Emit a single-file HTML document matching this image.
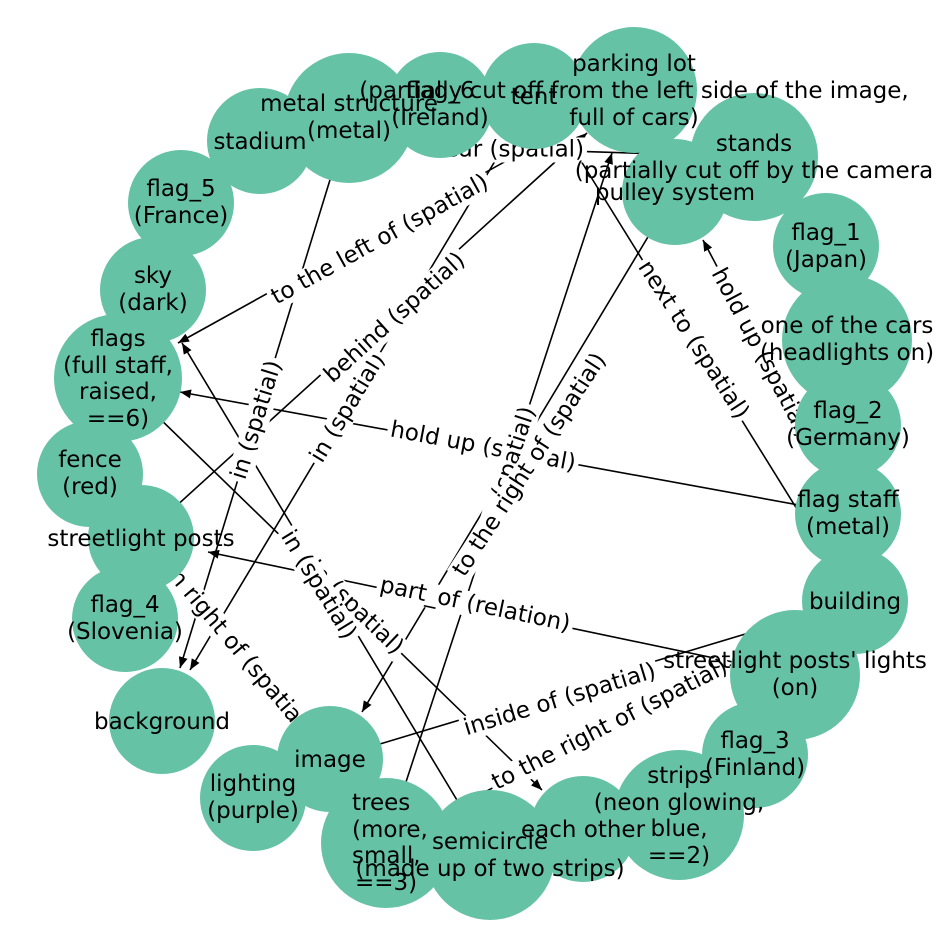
<!DOCTYPE html>
<html><head><meta charset="utf-8"><style>
html,body{margin:0;padding:0;background:#fff;}
#wrap{position:relative;width:948px;height:948px;overflow:hidden;font-family:"DejaVu Sans","Liberation Sans",sans-serif;}
svg{position:absolute;left:0;top:0;}
.el{position:absolute;white-space:nowrap;font-size:23px;line-height:25px;background:#fff;padding:0 3px;color:#000;}
</style></head><body><div id="wrap">
<svg width="948" height="948">
<defs><marker id="a" markerUnits="userSpaceOnUse" markerWidth="12" markerHeight="10" refX="11" refY="4.5" orient="auto"><path d="M0,0 L11,4.5 L0,9 z" fill="#000"/></marker></defs>
<g stroke="#000" stroke-width="1.6" fill="none">
<line x1="260" y1="141" x2="754" y2="157"/>
<line x1="349" y1="118" x2="180" y2="668" marker-end="url(#a)"/>
<line x1="534" y1="96" x2="190" y2="670" marker-end="url(#a)"/>
<line x1="141" y1="538" x2="587" y2="133" marker-end="url(#a)"/>
<line x1="634" y1="90" x2="178" y2="343" marker-end="url(#a)"/>
<line x1="800" y1="514" x2="568" y2="140" marker-end="url(#a)"/>
<line x1="848" y1="514" x2="703" y2="240" marker-end="url(#a)"/>
<line x1="848" y1="514" x2="180" y2="392" marker-end="url(#a)"/>
<line x1="675" y1="192" x2="362" y2="712" marker-end="url(#a)"/>
<line x1="386" y1="843" x2="612" y2="153" marker-end="url(#a)"/>
<line x1="795" y1="675" x2="208" y2="552" marker-end="url(#a)"/>
<line x1="330" y1="759" x2="855" y2="601"/>
<line x1="386" y1="843" x2="855" y2="601"/>
<line x1="490" y1="855" x2="182" y2="343" marker-end="url(#a)"/>
<line x1="118" y1="378" x2="542" y2="790" marker-end="url(#a)"/>
<line x1="90" y1="474" x2="330" y2="759"/>
</g></svg>

<div class="el" style="left:507px;top:150px;transform:translate(-50%,-50%) rotate(0deg)">near (spatial)</div>
<div class="el" style="left:483px;top:447px;transform:translate(-50%,-50%) rotate(10.5deg)">hold up (spatial)</div>
<div class="el" style="left:257px;top:420px;transform:translate(-50%,-50%) rotate(-72.8deg)">in (spatial)</div>
<div class="el" style="left:348px;top:408px;transform:translate(-50%,-50%) rotate(-59deg)">in (spatial)</div>
<div class="el" style="left:395px;top:318px;transform:translate(-50%,-50%) rotate(-42.3deg)">behind (spatial)</div>
<div class="el" style="left:380px;top:240px;transform:translate(-50%,-50%) rotate(-29deg)">to the left of (spatial)</div>
<div class="el" style="left:693px;top:340px;transform:translate(-50%,-50%) rotate(57deg)">next to (spatial)</div>
<div class="el" style="left:761px;top:353px;transform:translate(-50%,-50%) rotate(62deg)">hold up (spatial)</div>
<div class="el" style="left:510px;top:466px;transform:translate(-50%,-50%) rotate(-72deg)">in (spatial)</div>
<div class="el" style="left:530px;top:465px;transform:translate(-50%,-50%) rotate(-57deg)">to the right of (spatial)</div>
<div class="el" style="left:475px;top:605px;transform:translate(-50%,-50%) rotate(11.8deg)">part_of (relation)</div>
<div class="el" style="left:560px;top:700px;transform:translate(-50%,-50%) rotate(-17deg)">inside of (spatial)</div>
<div class="el" style="left:610px;top:725px;transform:translate(-50%,-50%) rotate(-27deg)">to the right of (spatial)</div>
<div class="el" style="left:355px;top:608px;transform:translate(-50%,-50%) rotate(44deg)">in (spatial)</div>
<div class="el" style="left:318px;top:585px;transform:translate(-50%,-50%) rotate(58.6deg)">in (spatial)</div>
<div class="el" style="left:218px;top:626px;transform:translate(-50%,-50%) rotate(50deg)">bottom right of (spatial)</div>

<svg width="948" height="948">
<g fill="#66c2a5">
<circle cx="260" cy="141" r="53"/>
<circle cx="349" cy="118" r="65"/>
<circle cx="440" cy="105" r="53"/>
<circle cx="534" cy="96" r="53"/>
<circle cx="634" cy="90" r="63"/>
<circle cx="754" cy="157" r="64"/>
<circle cx="675" cy="192" r="53"/>
<circle cx="826" cy="246" r="53"/>
<circle cx="847" cy="340" r="65"/>
<circle cx="848" cy="425" r="53"/>
<circle cx="848" cy="514" r="53"/>
<circle cx="855" cy="601" r="53"/>
<circle cx="795" cy="675" r="65"/>
<circle cx="755" cy="755" r="53"/>
<circle cx="679" cy="815" r="65"/>
<circle cx="583" cy="829" r="53"/>
<circle cx="490" cy="855" r="65"/>
<circle cx="386" cy="843" r="65"/>
<circle cx="330" cy="759" r="53"/>
<circle cx="253" cy="798" r="53"/>
<circle cx="162" cy="721" r="53"/>
<circle cx="125" cy="619" r="53"/>
<circle cx="141" cy="538" r="53"/>
<circle cx="90" cy="474" r="53"/>
<circle cx="118" cy="378" r="64"/>
<circle cx="153" cy="290" r="53"/>
<circle cx="181" cy="203" r="53"/>
</g>
<g font-family="DejaVu Sans, Liberation Sans, sans-serif" font-size="23" text-anchor="middle" fill="#000">
<text x="260" y="149">stadium</text>
<text x="349" y="111">metal structure</text><text x="349" y="138">(metal)</text>
<text x="440" y="98">flag_6</text><text x="440" y="125">(Ireland)</text>
<text x="534" y="104">tent</text>
<text x="634" y="71">parking lot</text>
<text x="634" y="98">(partially cut off from the left side of the image,</text>
<text x="634" y="125">full of cars)</text>
<text x="754" y="151">stands</text><text x="754" y="178">(partially cut off by the camera</text>
<text x="675" y="200">pulley system</text>
<text x="826" y="240">flag_1</text><text x="826" y="267">(Japan)</text>
<text x="847" y="333">one of the cars</text><text x="847" y="360">(headlights on)</text>
<text x="848" y="418">flag_2</text><text x="848" y="445">(Germany)</text>
<text x="848" y="507">flag staff</text><text x="848" y="534">(metal)</text>
<text x="855" y="609">building</text>
<text x="795" y="668">streetlight posts' lights</text><text x="795" y="695">(on)</text>
<text x="755" y="748">flag_3</text><text x="755" y="775">(Finland)</text>
<text x="679" y="783">strips</text><text x="679" y="810">(neon glowing,</text><text x="679" y="836">blue,</text><text x="679" y="863">==2)</text>
<text x="583" y="837">each other</text>
<text x="490" y="849">semicircle</text><text x="490" y="876">(made up of two strips)</text>
<text x="352" y="810" text-anchor="start">trees</text><text x="352" y="837" text-anchor="start">(more,</text><text x="352" y="863" text-anchor="start">small,</text><text x="355" y="890" text-anchor="start">==3)</text>
<text x="330" y="767">image</text>
<text x="253" y="791">lighting</text><text x="253" y="818">(purple)</text>
<text x="162" y="729">background</text>
<text x="125" y="612">flag_4</text><text x="125" y="639">(Slovenia)</text>
<text x="141" y="546">streetlight posts</text>
<text x="90" y="467">fence</text><text x="90" y="494">(red)</text>
<text x="118" y="346">flags</text><text x="118" y="373">(full staff,</text><text x="118" y="399">raised,</text><text x="118" y="426">==6)</text>
<text x="153" y="283">sky</text><text x="153" y="310">(dark)</text>
<text x="181" y="196">flag_5</text><text x="181" y="223">(France)</text>
</g></svg>
</div></body></html>
